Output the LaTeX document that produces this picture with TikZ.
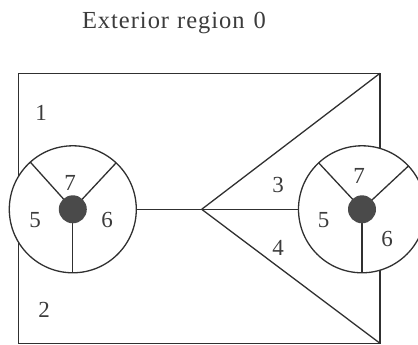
\documentclass[tikz,border=0pt]{standalone}
\usepackage{fontspec}
\setmainfont{Liberation Serif}
\definecolor{ink}{HTML}{303030}
\definecolor{dotc}{HTML}{4A4A4A}
\definecolor{txt}{HTML}{3C3C3C}
\begin{document}
\begin{tikzpicture}[x=1pt,y=-1pt,
  edge/.style={draw=ink,line width=1.3pt},
  ring/.style={circle,draw=ink,line width=1.3pt,fill=white,minimum size=127pt,inner sep=0pt,outer sep=0pt},
  hub/.style={circle,fill=dotc,minimum size=28pt,inner sep=0pt,outer sep=0pt},
  lab/.style={inner sep=0pt,outer sep=0pt,text=txt,font=\fontsize{23}{28}\selectfont}]
\clip (0,0) rectangle (418,345);
\coordinate (tl) at (18.3,73.3);
\coordinate (tr) at (380,73.3);
\coordinate (bl) at (18.3,343.3);
\coordinate (br) at (380,343.3);
\coordinate (apex) at (201.7,209.3);
\node[lab,anchor=base west,font=\fontsize{24.5}{28}\selectfont\addfontfeature{LetterSpace=4}] (title) at (82,28.3) {Exterior\hspace{8pt}region\hspace{9pt}0};
\draw[edge] (tl) -- (tr) -- (br) -- (bl) -- cycle;
\draw[edge] (apex) -- (tr);
\draw[edge] (apex) -- (br);
\node[ring] (L) at (72.8,209.3) {};
\node[ring] (R) at (362,209.3) {};
\draw[edge] (L.east) -- (apex);
\draw[edge] (apex) -- (R.west);
\draw[edge] (L.center) -- (L.132);
\draw[edge] (L.center) -- (L.47);
\draw[edge] (L.center) -- (L.south);
\draw[edge] (R.center) -- (R.133);
\draw[edge] (R.center) -- (R.43);
\draw[edge] (R.center) -- (R.south);
\node[hub] (Lhub) at (L.center) {};
\node[hub] (Rhub) at (R.center) {};
\node[lab] (n1) at (41,113) {1};
\node[lab] (n2) at (44,310) {2};
\node[lab] (l7) at (70,183) {7};
\node[lab] (l5) at (35,220) {5};
\node[lab] (l6) at (107,220) {6};
\node[lab] (n3) at (278,184.7) {3};
\node[lab] (n4) at (278,247.5) {4};
\node[lab] (r7) at (359,175.5) {7};
\node[lab] (r5) at (323.5,220) {5};
\node[lab] (r6) at (387,239) {6};
\end{tikzpicture}
\end{document}
